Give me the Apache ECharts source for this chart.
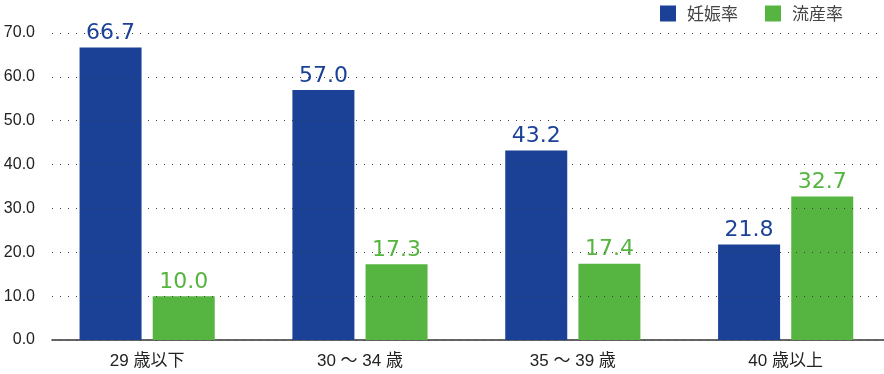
<!DOCTYPE html>
<html><head><meta charset="utf-8">
<script src="https://cdn.jsdelivr.net/npm/echarts@6/dist/echarts.min.js"></script>
<style>html,body{margin:0;padding:0;background:#fff}#c{width:884px;height:374px}</style>
</head><body><div id="c"></div>
<script>
const categories = ['29 歳以下', '30 ～ 34 歳', '35 ～ 39 歳', '40 歳以上'];
const pregnancyRate = [66.7, 57.0, 43.2, 21.8];
const miscarriageRate = [10.0, 17.3, 17.4, 32.7];
const seriesNames = ['妊娠率', '流産率'];
const yMin = 0, yMax = 70, yStep = 10;

const catIdx = categories.map((c, i) => i);
const chart = echarts.init(document.getElementById('c'));
const font = '"Liberation Sans", Arial, "Noto Sans CJK JP", sans-serif';
const labelFont = '"DejaVu Sans", sans-serif';
chart.setOption({
  animation: false,
  textStyle: {fontFamily: font},
  legend: {
    top: 0, right: 36, itemWidth: 16, itemHeight: 16, itemGap: 27,
    icon: 'rect',
    textStyle: {fontSize: 17, color: '#444', padding: [0, 0, 0, 6], fontFamily: '"Noto Sans CJK JP", sans-serif'},
    data: seriesNames
  },
  grid: {left: 52, right: 0, top: 33, bottom: 34},
  xAxis: {
    type: 'value', min: -0.447, max: 3.462,
    splitLine: {show: false},
    axisLine: {lineStyle: {color: '#333', width: 1.5}},
    axisTick: {show: false},
    axisLabel: {customValues: catIdx, fontSize: 17, color: '#222', margin: 13, fontFamily: font,
                formatter: v => categories[Math.round(v)] || ''}
  },
  yAxis: {
    type: 'value', min: yMin, max: yMax, interval: yStep, z: 5,
    axisLine: {show: false}, axisTick: {show: false},
    axisLabel: {fontSize: 16, color: '#222', margin: 17, formatter: v => v.toFixed(1)},
    splitLine: {lineStyle: {type: [1, 7], color: '#444', width: 1}}
  },
  series: [
    {name: seriesNames[0], type: 'bar', data: pregnancyRate.map((v, i) => [catIdx[i], v]), barWidth: 62, barGap: '18%',
     itemStyle: {color: '#1b4196'},
     label: {show: true, position: 'top', distance: 3, fontSize: 22, fontFamily: labelFont, color: '#1b4196', formatter: p => p.value[1].toFixed(1)}},
    {name: seriesNames[1], type: 'bar', data: miscarriageRate.map((v, i) => [catIdx[i], v]), barWidth: 62,
     itemStyle: {color: '#56b440'},
     label: {show: true, position: 'top', distance: 3, fontSize: 22, fontFamily: labelFont, color: '#56b440', formatter: p => p.value[1].toFixed(1)}}
  ]
});
</script></body></html>
